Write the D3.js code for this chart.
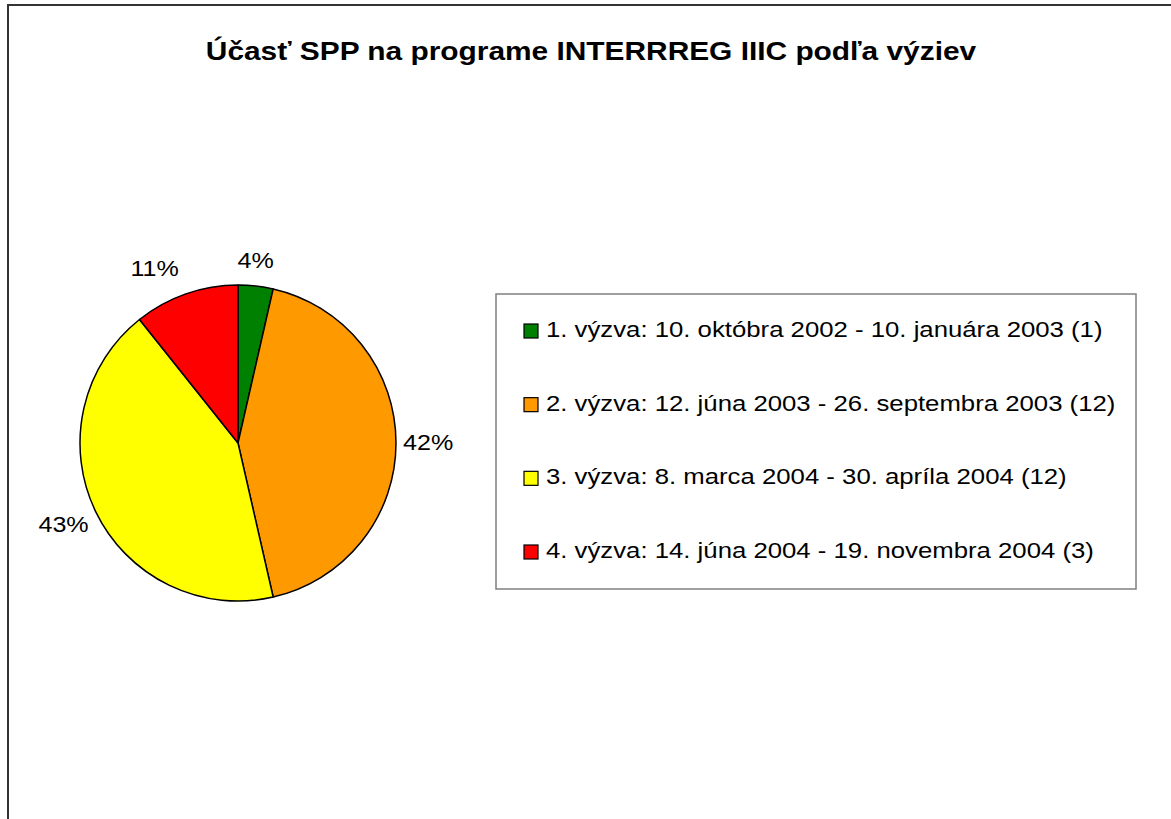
<!DOCTYPE html>
<html>
<head>
<meta charset="utf-8">
<script src="https://cdn.jsdelivr.net/npm/d3@7"></script>
<style>
  body { margin: 0; background: #fff; }
  text { font-family: "Liberation Sans", Arial, sans-serif; fill: #000; }
</style>
</head>
<body>
<svg id="chart" width="1171" height="819"></svg>
<script>
// data
var titleText = "Účasť SPP na programe INTERRREG IIIC podľa výziev";
var calls = [
    "1. výzva: 10. októbra 2002 - 10. januára 2003 (1)",
    "2. výzva: 12. júna 2003 - 26. septembra 2003 (12)",
    "3. výzva: 8. marca 2004 - 30. apríla 2004 (12)",
    "4. výzva: 14. júna 2004 - 19. novembra 2004 (3)"
];
var counts = [1, 12, 12, 3];
var pctLabels = ["4%", "42%", "43%", "11%"];
var colors = ["#008000", "#ff9900", "#ffff00", "#ff0000"];

// the original text is a bit wider than Liberation Sans at the same height
var stretch = 1.14;
var legendStretch = 1.17;

function drawPie() {
    var svg = d3.select("#chart");

    // outer frame (runs off the right/bottom edge)
    svg.append("rect")
       .attr("x", 8).attr("y", 5)
       .attr("width", 1200).attr("height", 900)
       .attr("fill", "none")
       .attr("stroke", "#333")
       .attr("stroke-width", 2);

    svg.append("g")
       .attr("transform", "translate(591,60) scale(1.195,1)")
       .append("text")
       .attr("text-anchor", "middle")
       .style("font-size", "25px")
       .style("font-weight", "bold")
       .text(titleText);

    var cx = 238, cy = 443, radius = 158;
    var g = svg.append("g")
               .attr("transform", "translate(" + cx + "," + cy + ")");

    var pie = d3.pie().sort(null).value(function(d) { return d; });
    var arcs = pie(counts);

    var path = d3.arc().outerRadius(radius).innerRadius(0);

    g.selectAll(".slice")
     .data(arcs)
     .enter().append("path")
     .attr("class", "slice")
     .attr("d", path)
     .attr("fill", function(d, i) { return colors[i]; })
     .attr("stroke", "#000")
     .attr("stroke-width", 1.5)
     .attr("stroke-linejoin", "round");

    // percentage labels placed just outside the rim
    var gapX = 7, upOff = 25, downOff = 13;
    var pct = g.selectAll(".pct")
     .data(arcs)
     .enter().append("g")
     .attr("class", "pct")
     .attr("transform", function(d) {
         var a = (d.startAngle + d.endAngle) / 2;
         var dx = Math.sin(a), dy = -Math.cos(a);
         var x = dx * radius, y = dy * radius;
         if (Math.abs(dx) >= 0.2) x += dx > 0 ? gapX : -gapX;
         if (Math.abs(dy) >= 0.2) y += dy < 0 ? -upOff : downOff;
         return "translate(" + x + "," + y + ") scale(" + stretch + ",1)";
     });

    pct.append("text")
     .style("font-size", "22px")
     .attr("dominant-baseline", "central")
     .attr("text-anchor", function(d) {
         var a = (d.startAngle + d.endAngle) / 2, dx = Math.sin(a);
         if (Math.abs(dx) < 0.2) return "middle";
         return dx > 0 ? "start" : "end";
     })
     .text(function(d, i) { return pctLabels[i]; });

    // legend
    var lx = 496, ly = 294, lw = 640, lh = 295;
    svg.append("rect")
       .attr("x", lx).attr("y", ly)
       .attr("width", lw).attr("height", lh)
       .attr("fill", "#fff")
       .attr("stroke", "#808080")
       .attr("stroke-width", 1.5);

    var row = d3.scalePoint().domain(d3.range(calls.length)).range([330, 551]);

    var item = svg.selectAll(".item")
                  .data(calls)
                  .enter().append("g")
                  .attr("class", "item")
                  .attr("transform", function(d, i) { return "translate(524," + row(i) + ")"; });

    item.append("rect")
        .attr("x", 0).attr("y", -6)
        .attr("width", 14).attr("height", 14)
        .attr("fill", function(d, i) { return colors[i]; })
        .attr("stroke", "#000")
        .attr("stroke-width", 1.2);

    item.append("g")
        .attr("transform", "translate(22,7) scale(" + legendStretch + ",1)")
        .append("text")
        .style("font-size", "22px")
        .text(function(d) { return d; });
}

drawPie();
</script>
</body>
</html>
